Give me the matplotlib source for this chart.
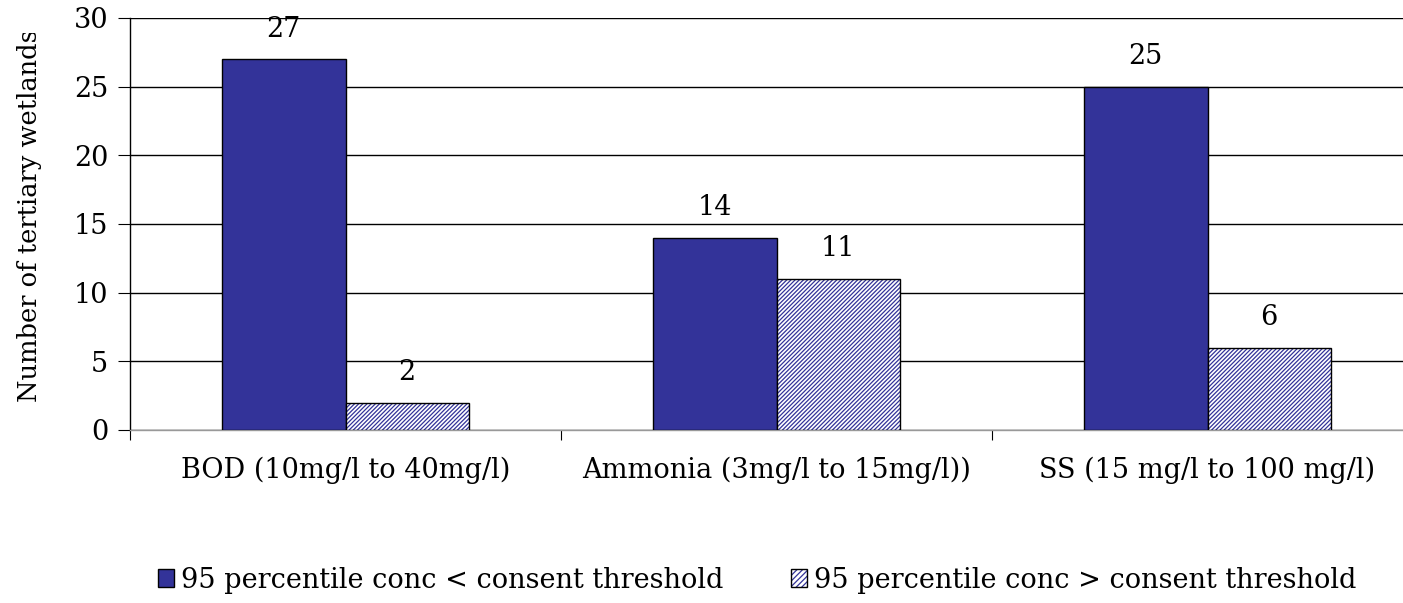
import numpy as np
import matplotlib
matplotlib.use('Agg')
import matplotlib.pyplot as plt
from matplotlib.patches import Patch
from matplotlib.legend_handler import HandlerTuple
from matplotlib.transforms import Bbox, TransformedBbox

categories = ['BOD (10mg/l to 40mg/l)', 'Ammonia (3mg/l to 15mg/l))', 'SS (15 mg/l to 100 mg/l)']
below = [27, 14, 25]
above = [2, 11, 6]
series_names = ['95 percentile conc < consent threshold', '95 percentile conc > consent threshold']

navy = '#333399'
plt.rcParams['font.family'] = ['DejaVu Serif']
plt.rcParams['font.size'] = 19.5
plt.rcParams['hatch.linewidth'] = 0.9

fig = plt.figure(figsize=(14.03, 6.03), dpi=100)
ax = fig.add_axes([130 / 1403, 1 - 430 / 603, 1293 / 1403, 412 / 603])

x = np.arange(len(categories))
w = 0.286
b1 = ax.bar(x - w / 2, below, w, color=navy, edgecolor='black', linewidth=1, zorder=3)
# hatched series: blue hatch on white, black outline drawn on top
b2h = ax.bar(x + w / 2, above, w, color='white', edgecolor=navy, linewidth=0,
             hatch='////////', zorder=3)
b2 = ax.bar(x + w / 2, above, w, fill=False, edgecolor='black', linewidth=1, zorder=4)

for xs, vals in [(x - w / 2, below), (x + w / 2, above)]:
    for xi, v in zip(xs, vals):
        ax.annotate(str(v), (xi, v), xytext=(0, 12), textcoords='offset points',
                    ha='center', va='bottom')

ax.set_xlim(-0.5, 2.5)
ax.set_ylim(0, 30)
ax.set_yticks(range(0, 31, 5))
ax.yaxis.grid(True, color='black', linewidth=1, zorder=0)
ax.set_axisbelow(True)
for s in ['top', 'right']:
    ax.spines[s].set_visible(False)
ax.spines['left'].set_linewidth(1)
ax.spines['bottom'].set_linewidth(1)
ax.spines['bottom'].set_color('#999999')

ax.set_xticks([-0.5, 0.5, 1.5, 2.5])
ax.set_xticklabels([])
ax.set_xticks(x, minor=True)
ax.set_xticklabels(categories, minor=True)
ax.tick_params(axis='x', which='major', length=7, direction='out', color='black')
ax.tick_params(axis='x', which='minor', length=0, pad=19)
ax.tick_params(axis='y', length=8.6, direction='out', pad=7)

yl = ax.set_ylabel('Number of tertiary wetlands', fontsize=18.5)
ax.yaxis.set_label_coords(-88 / 1293, 0.52)
yl.set_clip_box(TransformedBbox(Bbox([[0, 0], [1, 1 - 33 / 603]]), fig.transFigure))
yl.set_clip_on(True)

h1 = Patch(facecolor=navy, edgecolor='black', linewidth=1)
h2a = Patch(facecolor='white', edgecolor=navy, linewidth=0, hatch='//////')
h2b = Patch(fill=False, edgecolor='black', linewidth=1)
fig.legend(handles=[h1, (h2a, h2b)], labels=series_names, loc='center',
           bbox_to_anchor=(757 / 1403, 1 - 580 / 603), ncol=2, frameon=False,
           handler_map={tuple: HandlerTuple(ndivide=1, pad=0)},
           handlelength=0.6, handleheight=0.6, handletextpad=0.25, columnspacing=2.5)

fig.savefig('out.png', dpi=100)
